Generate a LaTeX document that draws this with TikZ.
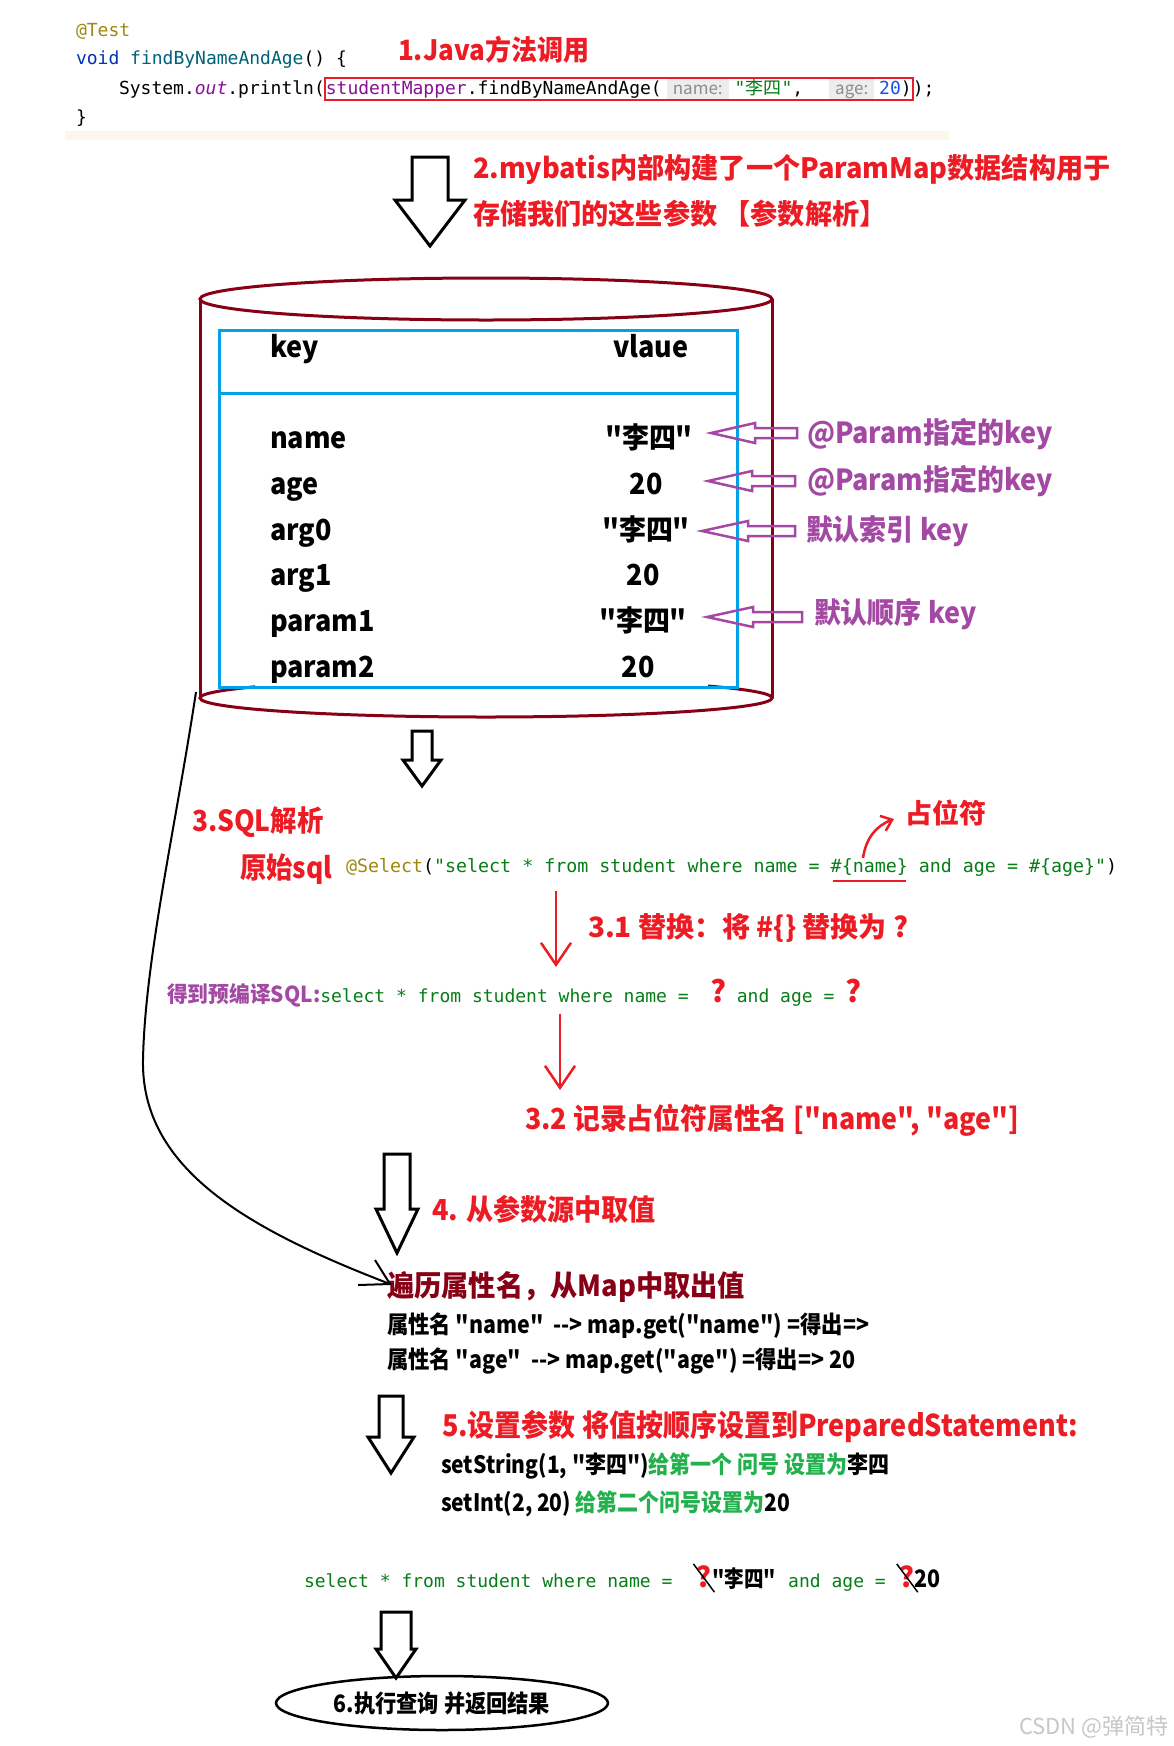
\documentclass[tikz,border=0pt]{standalone}
\usepackage{fontspec}
\newfontfamily\cjk{Noto Sans CJK SC}[Ligatures=TeXOff]
\newfontfamily\code{DejaVu Sans Mono}[Ligatures=TeXOff]
\usetikzlibrary{arrows.meta,shapes.geometric}
\definecolor{pred}{HTML}{ED1C24}
\definecolor{dred}{HTML}{880015}
\definecolor{pblue}{HTML}{00A2E8}
\definecolor{ppurple}{HTML}{A349A4}
\definecolor{pgreen}{HTML}{22B14C}
\definecolor{cgreen}{HTML}{067D17}
\definecolor{colive}{HTML}{9E880D}
\definecolor{cblue}{HTML}{0033B3}
\definecolor{cteal}{HTML}{00627A}
\definecolor{cpurple}{HTML}{871094}
\definecolor{cnum}{HTML}{1750EB}
\definecolor{hintbg}{HTML}{EDEDED}
\definecolor{hintfg}{HTML}{8C8C8C}
\definecolor{beige}{HTML}{FBF7EA}
\newcommand\fs[1]{\fontsize{#1}{#1}\selectfont}
\newcommand\sq[1]{\addfontfeature{FakeStretch=#1}}
\newcommand\hdown[6]{\draw[hol] (#1-#3,#2) -- (#1+#3,#2) -- (#1+#3,#4) -- (#1+#5,#4) -- (#1,#6) -- (#1-#5,#4) -- (#1-#3,#4) -- cycle;}
\newcommand\hleft[6]{\draw[parr] (#1,#2) -- (#3,#2-#6) -- (#3,#2-#5) -- (#4,#2-#5) -- (#4,#2+#5) -- (#3,#2+#5) -- (#3,#2+#6) -- cycle;}
\newcommand\hint[1]{{\setlength\fboxsep{0pt}\colorbox{hintbg}{\rule[-5pt]{0pt}{20pt}\hspace{6pt}{\cjk\fs{17}\color{hintfg}#1}\hspace{6pt}}}}
\tikzset{
  lt/.style={anchor=west},
  bw/.style={anchor=base west},
  redh/.style={lt, text=pred, font=\cjk\bfseries\sq{0.93}\fs{28}},
  codet/.style={font=\code\fs{18}},
  tbl/.style={font=\cjk\bfseries\sq{0.93}\fs{29}},
  plab/.style={lt, text=ppurple, font=\cjk\bfseries\sq{0.93}\fs{29}},
  blk/.style={font=\cjk\bfseries\sq{0.89}\fs{24}},
  hol/.style={draw=black, line width=3pt, fill=white, line join=miter},
  cyl/.style={draw=dred, line width=3pt},
  parr/.style={draw=ppurple, line width=2.5pt, line join=miter},
  redv/.style={draw=pred, line width=2.5pt, -{Straight Barb[length=22pt, width=30pt]}},
}
\begin{document}
\begin{tikzpicture}[x=1pt,y=-1pt, every node/.style={inner sep=0pt, outer sep=0pt}]
\useasboundingbox (0,0) rectangle (1174,1746);
\fill[white] (0,0) rectangle (1174,1746);

% ---------- code block
\fill[beige] (65,131) rectangle (949,140);
\node[codet, lt, text=colive] (ctest) at (76,31) {@Test};
\node[codet, lt] (cvoid) at (76,60) {{\color{cblue}void} {\color{cteal}findByNameAndAge}() \{};
\node[codet, lt] (csys) at (119,89) {System.{\color{cpurple}\itshape out}.println(};
\node[codet, anchor=west, draw=pred, line width=2.5pt, inner xsep=1pt, minimum height=22pt] (ccall) at (csys.east)
  {{\color{cpurple}studentMapper}.findByNameAndAge(\hspace{5pt}\hint{name:}\hspace{6pt}{\color{cgreen}"{\cjk 李四}"},\hspace{26pt}\hint{age:}\hspace{5pt}{\color{cnum}20})};
\node[codet, anchor=west] (cend) at (ccall.east) {);};
\node[codet, lt] (cbrace) at (76,118) {\}};

\node[redh] (h1) at (398,50) {1.Java方法调用};

% ---------- step 2
\hdown{430}{157}{18}{200}{35}{246}
\node[redh, font=\cjk\bfseries\sq{0.97}\fs{28}] (h2a) at (473,169) {2.mybatis内部构建了一个ParamMap数据结构用于};
\node[redh, font=\cjk\bfseries\sq{0.97}\fs{28}] (h2b) at (473,214) {存储我们的这些参数 【参数解析】};

% ---------- cylinder
\draw[cyl] (486,299) ellipse [x radius=286, y radius=21];
\draw[cyl] (200,299) -- (200,698);
\draw[cyl] (772,299) -- (772,698);
\begin{scope}
  \clip (0,698) rectangle (1174,1746);
  \draw[cyl] (486,698) ellipse [x radius=286, y radius=19];
\end{scope}
\begin{scope}
  \clip (0,0) rectangle (255,698) (708,0) rectangle (1174,698);
  \draw[cyl] (486,698) ellipse [x radius=286, y radius=19];
\end{scope}
\draw[pblue, line width=3pt] (219,330) rectangle (737,687);
\draw[pblue, line width=3pt] (219,393) -- (737,393);

\node[tbl, bw] (tkey) at (270,357) {key};
\node[tbl, bw] (tval) at (613,357) {vlaue};
\node[tbl, bw] (k1) at (270,448) {name};
\node[tbl, bw] (k2) at (270,494) {age};
\node[tbl, bw] (k3) at (270,540) {arg0};
\node[tbl, bw] (k4) at (270,585) {arg1};
\node[tbl, bw] (k5) at (270,631) {param1};
\node[tbl, bw] (k6) at (270,677) {param2};
\node[tbl, anchor=base] (v1) at (649,448) {"李四"};
\node[tbl, anchor=base] (v2) at (646,494) {20};
\node[tbl, anchor=base] (v3) at (646,540) {"李四"};
\node[tbl, anchor=base] (v4) at (643,585) {20};
\node[tbl, anchor=base] (v5) at (643,631) {"李四"};
\node[tbl, anchor=base] (v6) at (638,677) {20};

\hleft{711}{433}{755}{797}{5}{10}
\hleft{708}{481}{752}{795}{5}{10}
\hleft{702}{531}{748}{795}{5}{10}
\hleft{707}{617}{753}{802}{5}{10}
\node[plab] (l1) at (807,434) {@Param指定的key};
\node[plab] (l2) at (807,481) {@Param指定的key};
\node[plab] (l3) at (806,531) {默认索引 key};
\node[plab] (l4) at (814,614) {默认顺序 key};

% ---------- step 3
\hdown{422}{731}{10}{760}{19}{786}
\node[redh, font=\cjk\bfseries\sq{0.91}\fs{29}] (h3) at (192,822) {3.SQL解析};
\node[redh, font=\cjk\bfseries\sq{0.91}\fs{29}] (h3b) at (240,869) {原始sql};
\node[codet, lt, font=\code\fs{18.3}] (sel) at (346,867) {{\color{colive}@Select}({\color{cgreen}"select * from student where name = \#\{name\} and age = \#\{age\}"})};
\draw[pred, line width=2.5pt] (833,881) -- (906,881);
\node[redh, font=\cjk\bfseries\fs{27}] (zw) at (905,813) {占位符};
\coordinate (zwa) at (863,858);
\coordinate (zwb) at (894,819);
\draw[pred, line width=2.5pt, -{Straight Barb[length=10pt, width=16pt]}] (zwa) .. controls (866,838) and (876,826) .. (zwb);

\coordinate (a1s) at (556,891);
\coordinate (a1e) at (556,967);
\draw[redv] (a1s) -- (a1e);
\node[redh, font=\cjk\bfseries\fs{28}] (h31) at (588,928) {3.1 替换：将 \#\{\} 替换为 ?};

\node[lt, text=ppurple, font=\cjk\bfseries\sq{0.945}\fs{22}] (p1) at (167,995) {得到预编译SQL:};
\node[codet, bw, text=cgreen] (p2) at (p1.base east) {select * from student where name =};
\node[bw, text=pred, font=\cjk\bfseries\fs{30}] (p3) at ([xshift=22pt]p2.base east) {?};
\node[codet, bw, text=cgreen] (p4) at ([xshift=10pt]p3.base east) {and age =};
\node[bw, text=pred, font=\cjk\bfseries\fs{30}] (p5) at ([xshift=11pt]p4.base east) {?};

\coordinate (a2s) at (560,1014);
\coordinate (a2e) at (560,1090);
\draw[redv] (a2s) -- (a2e);
\node[redh, font=\cjk\bfseries\sq{0.925}\fs{29}] (h32) at (525,1120) {3.2 记录占位符属性名 ["name", "age"]};

% ---------- step 4
\hdown{397}{1154}{13}{1209}{21}{1253}
\node[redh, font=\cjk\bfseries\sq{0.935}\fs{29}] (h4) at (432,1209) {4. 从参数源中取值};
\node[lt, text=dred, font=\cjk\bfseries\sq{0.94}\fs{29}] (h4b) at (387,1287) {遍历属性名，从Map中取出值};
\node[blk, lt] (g1) at (387,1326) {属性名 "name"\ \ --> map.get("name") =得出=>};
\node[blk, lt] (g2) at (387,1361) {属性名 "age"\ \ --> map.get("age") =得出=> 20};

\coordinate (cstart) at (196,692);
\coordinate (cmid) at (143,1060);
\coordinate (ctip) at (390,1284);
\draw[line width=2pt] (cstart) .. controls (175,830) and (145,960) .. (cmid)
  .. controls (141,1170) and (250,1230) .. (ctip);
\draw[line width=2pt] (375,1260) -- (ctip) -- (358,1285);

% ---------- step 5
\hdown{391}{1396}{12}{1437}{23}{1473}
\node[redh, font=\cjk\bfseries\sq{0.90}\fs{30}] (h5) at (442,1427) {5.设置参数 将值按顺序设置到PreparedStatement:};
\node[blk, lt, font=\cjk\bfseries\sq{0.875}\fs{24}] (s1) at (441,1466) {setString(1, "李四"){\color{pgreen}给第一个 问号 设置为}李四};
\node[blk, lt, font=\cjk\bfseries\sq{0.875}\fs{24}] (s2) at (441,1504) {setInt(2, 20) {\color{pgreen}给第二个问号设置为}20};

\node[codet, lt, text=cgreen] (f1) at (304,1581) {select * from student where name =};
\node[bw, text=pred, font=\cjk\bfseries\fs{28}] (q1) at ([xshift=24pt]f1.base east) {?};
\node[bw, font=\cjk\bfseries\sq{0.85}\fs{23}] (f2) at ([xshift=1pt]q1.base east) {"李四"};
\node[codet, bw, text=cgreen] (f3) at ([xshift=12pt]f2.base east) {and age =};
\node[bw, text=pred, font=\cjk\bfseries\fs{28}] (q2) at ([xshift=14pt]f3.base east) {?};
\node[blk, bw] (f4) at ([xshift=0pt]q2.base east) {20};
\draw[line width=1.5pt] ([xshift=-3pt,yshift=2pt]q1.north west) -- ([xshift=3pt,yshift=-4pt]q1.south east);
\draw[line width=1.5pt] ([xshift=-3pt,yshift=2pt]q2.north west) -- ([xshift=3pt,yshift=-4pt]q2.south east);

% ---------- step 6
\hdown{396}{1612}{15}{1649}{20}{1678}
\node[blk, font=\cjk\bfseries\sq{0.885}\fs{24}] (e6) at (442,1703) {6.执行查询 并返回结果};
\draw[line width=2.5pt] (e6.center) ellipse [x radius=166, y radius=27];

\node[lt, text=black!22, font=\cjk\fs{22}] (wm) at (1019,1727) {CSDN @弹简特};
\end{tikzpicture}
\end{document}
